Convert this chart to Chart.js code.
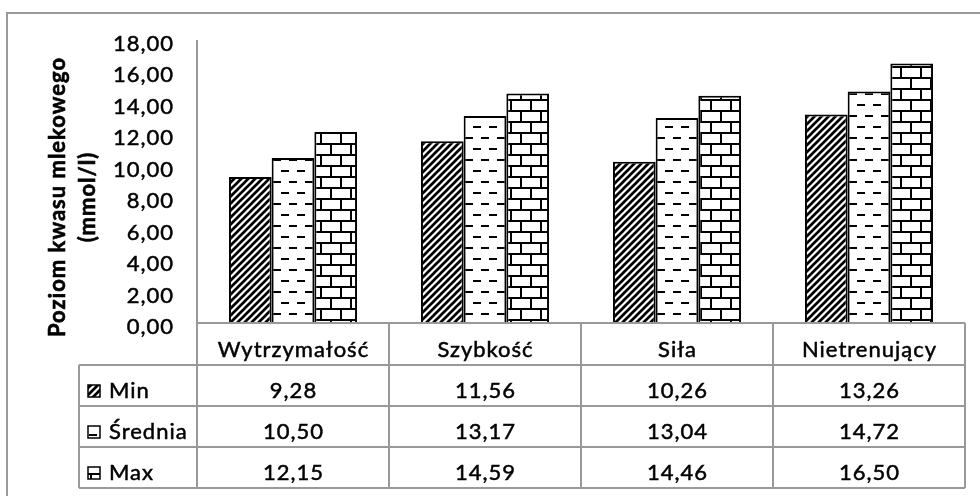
<!DOCTYPE html>
<html>
<head>
<meta charset="utf-8">
<script src="https://cdn.jsdelivr.net/npm/chart.js@4.4.1/dist/chart.umd.min.js"></script>
<style>
  html, body { margin: 0; padding: 0; background: #fff; }
  #wrap { width: 980px; height: 496px; }
</style>
</head>
<body>
<div id="wrap"><canvas id="c" width="980" height="496"></canvas></div>
<script>
// Data
const categories = ['Wytrzymałość', 'Szybkość', 'Siła', 'Nietrenujący'];
const seriesNames = ['Min', 'Średnia', 'Max'];
const minValues = [9.28, 11.56, 10.26, 13.26];
const avgValues = [10.50, 13.17, 13.04, 14.72];
const maxValues = [12.15, 14.59, 14.46, 16.50];
const tickValues = [0, 2, 4, 6, 8, 10, 12, 14, 16, 18];
const axisTitle = ['Poziom kwasu mlekowego', '(mmol/l)'];

const seriesValues = [minValues, avgValues, maxValues];

const FONT = '22px Lato';
const FONT_BOLD = 'bold 22px Lato';
const LINE = '#999999';

const canvas = document.getElementById('c');
const ctx = canvas.getContext('2d');

// Monochrome fill patterns
function makeTile(w, h, draw) {
  const c = document.createElement('canvas');
  c.width = w; c.height = h;
  const g = c.getContext('2d');
  g.fillStyle = '#fff';
  g.fillRect(0, 0, w, h);
  g.fillStyle = '#000';
  g.strokeStyle = '#000';
  draw(g, w, h);
  return ctx.createPattern(c, 'repeat');
}

// upward diagonal hatch
const hatchFill = makeTile(7, 7, (g, w, h) => {
  g.lineWidth = 2.7;
  g.beginPath();
  g.moveTo(-2, h + 2); g.lineTo(w + 2, -2);
  g.moveTo(-3, 3); g.lineTo(3, -3);
  g.moveTo(w - 3, h + 3); g.lineTo(w + 3, h - 3);
  g.stroke();
});

// staggered horizontal dashes
const dashFill = makeTile(16, 22, (g) => {
  g.fillRect(1, 5, 8, 2);
  g.fillRect(9, 16, 8, 2);
  g.fillRect(-7, 16, 8, 2);
});

// brick
const brickFill = makeTile(20, 22, (g) => {
  g.fillRect(0, 0, 20, 2);
  g.fillRect(0, 11, 20, 2);
  g.fillRect(0, 0, 2, 11);
  g.fillRect(10, 11, 2, 11);
});

const fills = [hatchFill, dashFill, brickFill];

function fmt(v) {
  return v.toFixed(2).replace('.', ',');
}

function text(c, s, x, y, align, font, weight) {
  c.font = font;
  c.textAlign = align;
  c.textBaseline = 'alphabetic';
  c.letterSpacing = '1px';
  c.fillStyle = '#000';
  c.strokeStyle = '#000';
  c.lineWidth = weight;
  c.fillText(s, x, y);
  c.strokeText(s, x, y);
}

function hLine(c, x1, x2, y) {
  c.beginPath(); c.moveTo(x1, y); c.lineTo(x2, y); c.stroke();
}
function vLine(c, x, y1, y2) {
  c.beginPath(); c.moveTo(x, y1); c.lineTo(x, y2); c.stroke();
}

// Frame, value axis, axis title and the data table under the plot
const tablePlugin = {
  id: 'dataTable',
  afterDraw(chart) {
    const c = chart.ctx;
    const area = chart.chartArea;
    const y = chart.scales.y;
    const n = categories.length;
    const colW = (area.right - area.left) / n;
    const tableLeft = 79;
    const headerH = 42;
    const rowH = 41;
    const rowTops = [area.bottom + headerH];
    for (let i = 1; i <= seriesNames.length; i++) rowTops.push(area.bottom + headerH + rowH * i);
    const tableBottom = rowTops[rowTops.length - 1];

    c.save();
    // outer frame
    c.strokeStyle = LINE;
    c.lineWidth = 2;
    hLine(c, 7, 980, 13);
    vLine(c, 7, 12, 496);

    // value axis line
    vLine(c, area.left, area.top, tableBottom);

    // table grid
    hLine(c, area.left, area.right, area.bottom);
    rowTops.forEach(t => hLine(c, tableLeft, area.right, t));
    vLine(c, tableLeft, rowTops[0], tableBottom);
    for (let i = 1; i <= n; i++) vLine(c, area.left + colW * i, area.bottom, tableBottom);

    // tick labels
    tickValues.forEach(v => {
      const py = y.getPixelForValue(v);
      text(c, fmt(v), 174, py + 11, 'right', FONT, 0.5);
    });

    // category header
    categories.forEach((cat, i) => {
      text(c, cat, area.left + colW * (i + 0.5) + 0.5, rowTops[0] - 8, 'center', FONT, 0.5);
    });

    // series rows
    seriesNames.forEach((name, r) => {
      const base = rowTops[r + 1] - 8;
      // legend key
      c.fillStyle = fills[r];
      c.fillRect(88, base - 13, 12, 12);
      c.strokeStyle = '#000';
      c.lineWidth = 1.5;
      c.strokeRect(88, base - 13, 12, 12);
      text(c, name, 109, base, 'left', FONT, 0.5);
      seriesValues[r].forEach((v, i) => {
        text(c, fmt(v), area.left + colW * (i + 0.5) + 0.5, base, 'center', FONT, 0.5);
      });
    });

    // axis title, two rotated lines
    c.translate(0, 197);
    c.rotate(-Math.PI / 2);
    text(c, axisTitle[0], 0, 65, 'center', FONT_BOLD, 0.6);
    text(c, axisTitle[1], 0, 95, 'center', FONT_BOLD, 0.6);
    c.restore();
  }
};

new Chart(ctx, {
  type: 'bar',
  data: {
    labels: categories,
    datasets: seriesNames.map((name, i) => ({
      label: name,
      data: seriesValues[i],
      backgroundColor: fills[i],
      borderColor: '#000',
      borderWidth: 2,
      borderSkipped: 'start'
    }))
  },
  options: {
    responsive: false,
    animation: false,
    devicePixelRatio: 1,
    layout: { padding: { left: 197, top: 40, right: 15, bottom: 173 } },
    datasets: { bar: { categoryPercentage: 0.667, barPercentage: 1 } },
    plugins: { legend: { display: false }, tooltip: { enabled: false } },
    scales: {
      x: { display: false },
      y: { display: false, min: 0, max: 18, ticks: { stepSize: 2 } }
    }
  },
  plugins: [tablePlugin]
});
</script>
</body>
</html>
